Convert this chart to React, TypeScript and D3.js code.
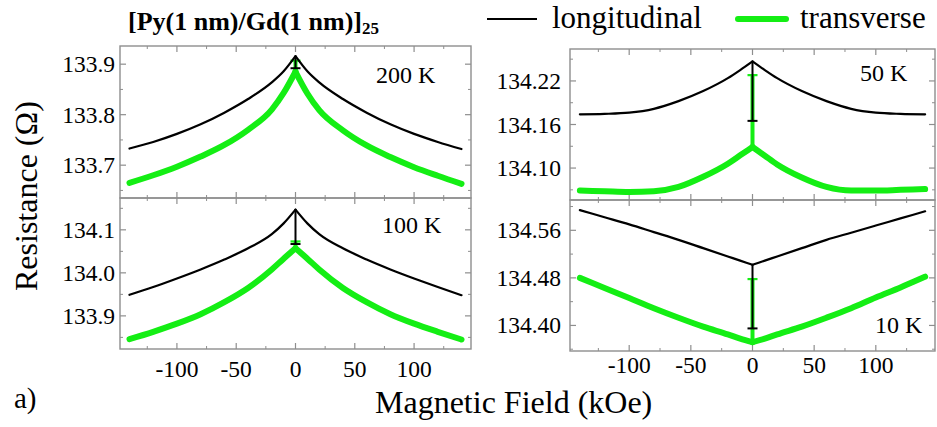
import React from "react";
import * as d3 from "d3";

// Magnetic field sweep (kOe), shared by every curve
const FIELD = [-140, -120, -100, -80, -60, -40, -20, -10, 0, 10, 20, 40, 60, 80, 100, 120, 140];

// Resistance (Ohm) at each temperature
const R200_LONG = [133.733, 133.746, 133.762, 133.781, 133.804, 133.831, 133.864, 133.886, 133.916, 133.886, 133.864, 133.831, 133.804, 133.781, 133.762, 133.746, 133.732];
const R200_TRANS = [133.665, 133.680, 133.697, 133.717, 133.740, 133.770, 133.810, 133.843, 133.885, 133.842, 133.809, 133.769, 133.739, 133.716, 133.696, 133.679, 133.663];
const R100_LONG = [133.949, 133.967, 133.987, 134.008, 134.031, 134.057, 134.090, 134.115, 134.147, 134.115, 134.090, 134.057, 134.031, 134.008, 133.987, 133.967, 133.948];
const R100_TRANS = [133.846, 133.863, 133.882, 133.904, 133.932, 133.965, 134.008, 134.033, 134.057, 134.033, 134.008, 133.965, 133.932, 133.904, 133.882, 133.863, 133.845];
const R50_LONG = [134.174, 134.1746, 134.1763, 134.1816, 134.1922, 134.206, 134.2238, 134.235, 134.247, 134.235, 134.2238, 134.206, 134.1922, 134.1816, 134.1763, 134.1746, 134.174];
const R50_TRANS = [134.069, 134.068, 134.067, 134.068, 134.074, 134.088, 134.106, 134.1175, 134.129, 134.117, 134.105, 134.087, 134.074, 134.069, 134.069, 134.070, 134.071];
const R10_LONG = [134.594, 134.582, 134.570, 134.557, 134.544, 134.530, 134.516, 134.509, 134.502, 134.509, 134.516, 134.530, 134.544, 134.556, 134.568, 134.580, 134.592];
const R10_TRANS = [134.480, 134.463, 134.446, 134.429, 134.413, 134.398, 134.385, 134.378, 134.372, 134.378, 134.385, 134.398, 134.413, 134.429, 134.447, 134.464, 134.482];

// Zero-field spread bars: far end of each bar (200 K, 100 K, 50 K, 10 K)
const ERR_LONG = [133.892, 134.067, 134.165, 134.395];
const ERR_TRANS = [133.907, 134.073, 134.228, 134.478];

const TEMP_LABELS = ["200 K", "100 K", "50 K", "10 K"];
const SERIES_NAMES = ["longitudinal", "transverse"];

const X_DOMAIN = [-148, 148];
const X_TICKS = [-100, -50, 0, 50, 100];
const X_MINOR = [-125, -75, -25, 25, 75, 125];

const Y_TICKS_200 = [133.7, 133.8, 133.9];
const Y_TICKS_100 = [133.9, 134.0, 134.1];
const Y_TICKS_50 = [134.1, 134.16, 134.22];
const Y_TICKS_10 = [134.4, 134.48, 134.56];

const Y_RANGE_200 = [133.635, 133.936];
const Y_RANGE_100 = [133.823, 134.174];
const Y_RANGE_50 = [134.056, 134.264];
const Y_RANGE_10 = [134.357, 134.611];

const BLACK = "#000";
const GREEN = "#14ee14";
const FRAME = "#8e8e8e";
const FONT = "'Liberation Serif', 'Times New Roman', serif";

const PANELS = [
  { long: R200_LONG, trans: R200_TRANS, errLong: ERR_LONG[0], errTrans: ERR_TRANS[0], label: TEMP_LABELS[0],
    yTicks: Y_TICKS_200, yDomain: Y_RANGE_200, step: 0.1, fmt: ".1f",
    box: { x0: 120, x1: 471, y0: 46, y1: 198 }, labelAt: [376, 83], xLabelY: null, yLabelX: 115 },
  { long: R100_LONG, trans: R100_TRANS, errLong: ERR_LONG[1], errTrans: ERR_TRANS[1], label: TEMP_LABELS[1],
    yTicks: Y_TICKS_100, yDomain: Y_RANGE_100, step: 0.1, fmt: ".1f",
    box: { x0: 120, x1: 471, y0: 198, y1: 349 }, labelAt: [382, 233], xLabelY: 377, yLabelX: 115 },
  { long: R50_LONG, trans: R50_TRANS, errLong: ERR_LONG[2], errTrans: ERR_TRANS[2], label: TEMP_LABELS[2],
    yTicks: Y_TICKS_50, yDomain: Y_RANGE_50, step: 0.06, fmt: ".2f",
    box: { x0: 570, x1: 935, y0: 49, y1: 200 }, labelAt: [860, 81], xLabelY: null, yLabelX: 561 },
  { long: R10_LONG, trans: R10_TRANS, errLong: ERR_LONG[3], errTrans: ERR_TRANS[3], label: TEMP_LABELS[3],
    yTicks: Y_TICKS_10, yDomain: Y_RANGE_10, step: 0.08, fmt: ".2f",
    box: { x0: 570, x1: 935, y0: 200, y1: 351 }, labelAt: [875, 333], xLabelY: 373, yLabelX: 561 },
];

type Pt = [number, number];

function branchPaths(values: number[], x: d3.ScaleLinear<number, number>, y: d3.ScaleLinear<number, number>) {
  // each side of the zero-field cusp is smoothed on its own so the cusp stays sharp
  const pts: Pt[] = FIELD.map((f, i) => [f, values[i]]);
  const gen = d3
    .line<Pt>()
    .x((d) => x(d[0]))
    .y((d) => y(d[1]))
    .curve(d3.curveMonotoneX);
  const left = pts.filter((p) => p[0] <= 0);
  const right = pts.filter((p) => p[0] >= 0);
  return [gen(left) || "", gen(right) || ""];
}

function Panel({ cfg }: { cfg: (typeof PANELS)[number] }) {
  const { box } = cfg;
  const x = d3.scaleLinear().domain(X_DOMAIN).range([box.x0, box.x1]);
  const y = d3.scaleLinear().domain(cfg.yDomain).range([box.y1, box.y0]);
  const fmt = d3.format(cfg.fmt);
  const MAJ = 6;
  const MIN = 3;

  const yMinor: number[] = [];
  cfg.yTicks.forEach((t) => {
    [t - cfg.step / 2, t + cfg.step / 2].forEach((m) => {
      if (m > cfg.yDomain[0] && m < cfg.yDomain[1] && !yMinor.some((v) => Math.abs(v - m) < 1e-9)) yMinor.push(m);
    });
  });

  const longPaths = branchPaths(cfg.long, x, y);
  const transPaths = branchPaths(cfg.trans, x, y);
  const zeroIdx = FIELD.indexOf(0);
  const x0 = x(0);
  const capHalf = 5;

  return (
    <g>
      {/* frame ticks */}
      {X_TICKS.map((t) => (
        <g key={"xt" + t} stroke={FRAME} strokeWidth={1.2}>
          <line x1={x(t)} x2={x(t)} y1={box.y1} y2={box.y1 - MAJ} />
          <line x1={x(t)} x2={x(t)} y1={box.y0} y2={box.y0 + MAJ} />
        </g>
      ))}
      {X_MINOR.map((t) => (
        <g key={"xm" + t} stroke={FRAME} strokeWidth={1}>
          <line x1={x(t)} x2={x(t)} y1={box.y1} y2={box.y1 - MIN} />
          <line x1={x(t)} x2={x(t)} y1={box.y0} y2={box.y0 + MIN} />
        </g>
      ))}
      {cfg.yTicks.map((t) => (
        <g key={"yt" + t} stroke={FRAME} strokeWidth={1.2}>
          <line x1={box.x0} x2={box.x0 + MAJ} y1={y(t)} y2={y(t)} />
          <line x1={box.x1} x2={box.x1 - MAJ} y1={y(t)} y2={y(t)} />
        </g>
      ))}
      {yMinor.map((t) => (
        <g key={"ym" + t} stroke={FRAME} strokeWidth={1}>
          <line x1={box.x0} x2={box.x0 + MIN} y1={y(t)} y2={y(t)} />
          <line x1={box.x1} x2={box.x1 - MIN} y1={y(t)} y2={y(t)} />
        </g>
      ))}

      {/* transverse curve and its zero-field bar */}
      {transPaths.map((d, i) => (
        <path key={"tr" + i} d={d} fill="none" stroke={GREEN} strokeWidth={6} strokeLinecap="round" strokeLinejoin="round" />
      ))}
      <line x1={x0} x2={x0} y1={y(cfg.trans[zeroIdx])} y2={y(cfg.errTrans)} stroke={GREEN} strokeWidth={4} />
      <line x1={x0 - capHalf} x2={x0 + capHalf} y1={y(cfg.errTrans)} y2={y(cfg.errTrans)} stroke={GREEN} strokeWidth={2.2} />

      {/* longitudinal curve and its zero-field bar */}
      {longPaths.map((d, i) => (
        <path key={"lo" + i} d={d} fill="none" stroke={BLACK} strokeWidth={2.2} strokeLinecap="round" strokeLinejoin="round" />
      ))}
      <line x1={x0} x2={x0} y1={y(cfg.long[zeroIdx])} y2={y(cfg.errLong)} stroke={BLACK} strokeWidth={2} />
      <line x1={x0 - capHalf} x2={x0 + capHalf} y1={y(cfg.errLong)} y2={y(cfg.errLong)} stroke={BLACK} strokeWidth={2} />

      <rect x={box.x0} y={box.y0} width={box.x1 - box.x0} height={box.y1 - box.y0} fill="none" stroke={FRAME} strokeWidth={1.4} />

      {/* tick labels */}
      {cfg.yTicks.map((t) => (
        <text key={"yl" + t} x={cfg.yLabelX} y={y(t) + 8} textAnchor="end" fontSize={23.5} fontFamily={FONT} fill="#000">
          {fmt(t)}
        </text>
      ))}
      {cfg.xLabelY !== null &&
        X_TICKS.map((t) => (
          <text key={"xl" + t} x={x(t)} y={cfg.xLabelY as number} textAnchor="middle" fontSize={23.5} fontFamily={FONT} fill="#000">
            {String(t)}
          </text>
        ))}

      <text x={cfg.labelAt[0]} y={cfg.labelAt[1]} fontSize={24} fontFamily={FONT} fill="#000">
        {cfg.label}
      </text>
    </g>
  );
}

export default function App() {
  return (
    <div style={{ position: "absolute", left: 0, top: 0 }}>
      <svg width={937} height={427} viewBox="0 0 937 427" style={{ display: "block", background: "#fff" }}>
        <rect x={0} y={0} width={937} height={427} fill="#fff" />

        <text x={128} y={30} fontSize={26} fontWeight="bold" fontFamily={FONT} fill="#000">
          [Py(1 nm)/Gd(1 nm)]
          <tspan fontSize={17} dy={4}>25</tspan>
        </text>

        {/* legend */}
        <line x1={487} x2={537} y1={19} y2={19} stroke={BLACK} strokeWidth={2} />
        <text x={552} y={28} fontSize={31} fontFamily={FONT} fill="#000">{SERIES_NAMES[0]}</text>
        <line x1={738} x2={786} y1={19} y2={19} stroke={GREEN} strokeWidth={6} strokeLinecap="round" />
        <text x={800} y={28} fontSize={31} fontFamily={FONT} fill="#000">{SERIES_NAMES[1]}</text>

        {PANELS.map((p, i) => (
          <Panel key={i} cfg={p} />
        ))}

        <text transform="translate(37,196) rotate(-90)" textAnchor="middle" fontSize={32} fontFamily={FONT} fill="#000">
          Resistance (Ω)
        </text>
        <text x={375} y={413} fontSize={32} fontFamily={FONT} fill="#000">
          Magnetic Field (kOe)
        </text>
        <text x={14} y={408} fontSize={29} fontFamily={FONT} fill="#000">
          a)
        </text>
      </svg>
    </div>
  );
}
